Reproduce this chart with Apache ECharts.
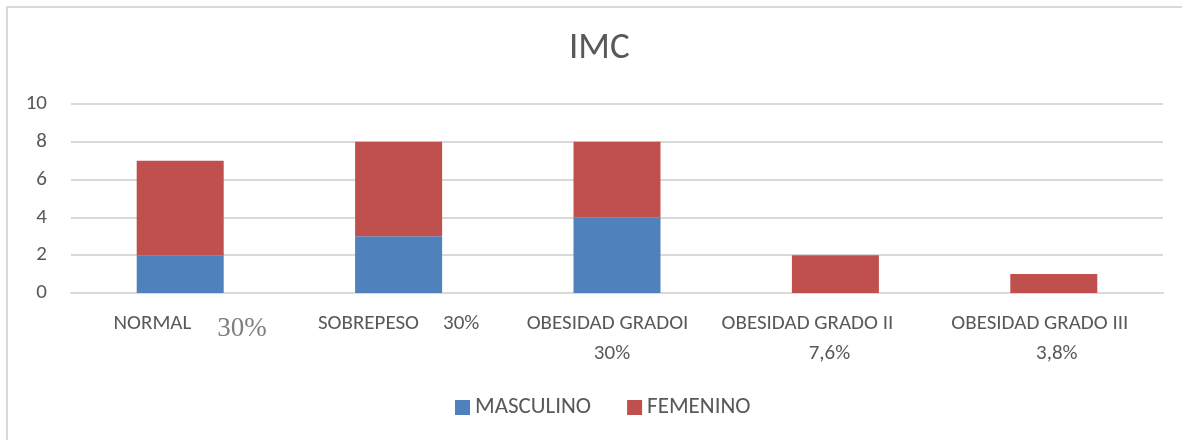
<!DOCTYPE html>
<html>
<head>
<meta charset="utf-8">
<script src="https://cdn.jsdelivr.net/npm/echarts@6/dist/echarts.min.js"></script>
<style>
html,body{margin:0;padding:0;background:#fff;}
#frame{position:absolute;left:6px;top:6px;width:1200px;height:460px;border-left:2px solid #d9d9d9;border-top:2px solid #d9d9d9;box-sizing:border-box;}
#chart{position:absolute;left:0;top:0;width:1182px;height:440px;}
</style>
</head>
<body>
<div id="frame"></div>
<div id="chart"></div>
<script>
const categories = ['NORMAL', 'SOBREPESO', 'OBESIDAD GRADOI', 'OBESIDAD GRADO II', 'OBESIDAD GRADO III'];
const pctLabels = ['30%', '30%', '30%', '7,6%', '3,8%'];
const masculino = [2, 3, 4, 0, 0];
const femenino = [5, 5, 4, 2, 1];
const seriesNames = ['MASCULINO', 'FEMENINO'];
const yTicks = {min: 0, max: 10, interval: 2};

const FONT = 'Carlito, Lato, sans-serif';
const base = {fontFamily: FONT, fontSize: 21, color: '#595959', lineHeight: 30};
function pad(p) { return Object.assign({}, base, {padding: p}); }
const chart = echarts.init(document.getElementById('chart'));
chart.setOption({
  animation: false,
  title: {
    text: 'IMC', left: 564, top: 25,
    textStyle: {fontFamily: FONT, fontSize: 37, fontWeight: 'normal', color: '#595959'}
  },
  legend: {
    bottom: 16, left: 450, itemWidth: 15, itemHeight: 15, itemGap: 36,
    icon: 'rect',
    textStyle: {fontFamily: FONT, fontSize: 23, color: '#595959'},
    data: seriesNames
  },
  grid: {left: 71, right: 19, top: 104, bottom: 147},
  xAxis: {
    type: 'category',
    data: categories,
    axisLine: {lineStyle: {color: '#d9d9d9', width: 2}},
    axisTick: {show: false},
    axisLabel: {
      interval: 0, margin: 16,
      fontFamily: FONT, fontSize: 21, color: '#595959', lineHeight: 30,
      formatter: function (v, i) {
        const p = pctLabels[i];
        if (i === 0) return '{a0|' + v + '}{s|' + p + '}';
        if (i === 1) return '{n|' + v + '}{g|' + p + '}';
        return '{a' + i + '|' + v + '}\n{b' + i + '|' + p + '}';
      },
      rich: {
        n: base,
        a0: pad([0, 0, 0, 20]),
        g: pad([0, 0, 0, 24]),
        s: {fontFamily: '"Liberation Serif", "DejaVu Serif", serif', fontSize: 27, color: '#7f7f7f',
            lineHeight: 30, padding: [9, 0, 0, 26]},
        a2: pad([0, 19, 0, 0]), b2: pad([0, 10, 0, 0]),
        a3: pad([0, 56, 0, 0]), b3: pad([0, 12, 0, 0]),
        a4: pad([0, 28, 0, 0]), b4: pad([0, 0, 0, 6])
      }
    }
  },
  yAxis: {
    type: 'value', min: yTicks.min, max: yTicks.max, interval: yTicks.interval,
    axisLine: {show: false}, axisTick: {show: false},
    axisLabel: {fontFamily: FONT, fontSize: 21, color: '#595959', margin: 24},
    splitLine: {lineStyle: {color: '#d9d9d9', width: 2}}
  },
  series: [
    {name: seriesNames[0], type: 'bar', stack: 'a', data: masculino, barWidth: 87,
     itemStyle: {color: '#4F81BD'}},
    {name: seriesNames[1], type: 'bar', stack: 'a', data: femenino, barWidth: 87,
     itemStyle: {color: '#C0504D'}}
  ]
});
</script>
</body>
</html>
